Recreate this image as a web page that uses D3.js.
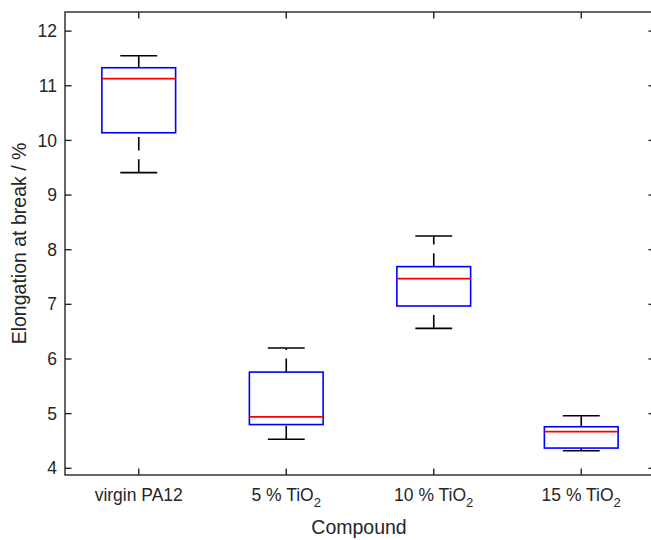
<!DOCTYPE html>
<html>
<head>
<meta charset="utf-8">
<script src="https://cdn.jsdelivr.net/npm/d3@7"></script>
<style>
  html, body { margin: 0; padding: 0; background: #fff; }
  svg { display: block; font-family: "Liberation Sans", Arial, Helvetica, sans-serif; }
</style>
</head>
<body>
<svg id="chart" width="651" height="540"></svg>
<script>
// ---- data ----
const categories = ["virgin PA12", "5 % TiO2", "10 % TiO2", "15 % TiO2"];
const labelMain = ["virgin PA12", "5 % TiO", "10 % TiO", "15 % TiO"];
const labelSub = ["", "2", "2", "2"];
const lowerWhisker = [9.41, 4.53, 6.56, 4.32];
const q1 = [10.14, 4.80, 6.97, 4.37];
const median = [11.13, 4.94, 7.47, 4.67];
const q3 = [11.33, 5.76, 7.69, 4.76];
const upperWhisker = [11.55, 6.20, 8.25, 4.96];
const yTicks = [4, 5, 6, 7, 8, 9, 10, 11, 12];
const xLabel = "Compound";
const yLabel = "Elongation at break / %";

// ---- layout ----
const svg = d3.select("#chart");
const pLeft = 65, pRight = 655, pTop = 12, pBottom = 475;
const axisColor = "#262626";
const x = d3.scaleLinear().domain([0.5, 4.5]).range([pLeft, pRight]);
const y = d3.scaleLinear().domain([3.877, 12.35]).range([pBottom, pTop]);
const boxHalf = 0.25, capHalf = 0.125;
const tickLen = 6.5;

const data = categories.map((c, i) => ({
  i, c, lo: lowerWhisker[i], q1: q1[i], med: median[i], q3: q3[i], hi: upperWhisker[i]
}));

const g = svg.append("g");

// whiskers (dashed)
g.selectAll(".wu").data(data).join("line")
  .attr("x1", d => x(d.i + 1)).attr("x2", d => x(d.i + 1))
  .attr("y1", d => y(d.q3)).attr("y2", d => y(d.hi))
  .attr("stroke", "#000").attr("stroke-width", 1.6)
  .attr("stroke-dasharray", "13.5,8.7");
g.selectAll(".wl").data(data).join("line")
  .attr("x1", d => x(d.i + 1)).attr("x2", d => x(d.i + 1))
  .attr("y1", d => y(d.lo)).attr("y2", d => y(d.q1))
  .attr("stroke", "#000").attr("stroke-width", 1.6)
  .attr("stroke-dasharray", "13.5,8.7");
// caps
["hi", "lo"].forEach(k => {
  g.selectAll(".cap" + k).data(data).join("line")
    .attr("x1", d => x(d.i + 1 - capHalf)).attr("x2", d => x(d.i + 1 + capHalf))
    .attr("y1", d => y(d[k])).attr("y2", d => y(d[k]))
    .attr("stroke", "#000").attr("stroke-width", 1.6);
});
// boxes
g.selectAll(".box").data(data).join("rect")
  .attr("x", d => x(d.i + 1 - boxHalf))
  .attr("width", d => x(d.i + 1 + boxHalf) - x(d.i + 1 - boxHalf))
  .attr("y", d => y(d.q3))
  .attr("height", d => y(d.q1) - y(d.q3))
  .attr("fill", "none").attr("stroke", "#0000ff").attr("stroke-width", 1.6);
// medians
g.selectAll(".med").data(data).join("line")
  .attr("x1", d => x(d.i + 1 - boxHalf)).attr("x2", d => x(d.i + 1 + boxHalf))
  .attr("y1", d => y(d.med)).attr("y2", d => y(d.med))
  .attr("stroke", "#ff0000").attr("stroke-width", 1.6);

// ---- axes ----
const ax = svg.append("g").attr("stroke", axisColor).attr("stroke-width", 1.4).attr("fill", "none");
ax.append("rect").attr("x", pLeft).attr("y", pTop).attr("width", pRight - pLeft).attr("height", pBottom - pTop);

const xt = [1, 2, 3, 4];
xt.forEach(v => {
  ax.append("line").attr("x1", x(v)).attr("x2", x(v)).attr("y1", pBottom).attr("y2", pBottom - tickLen);
  ax.append("line").attr("x1", x(v)).attr("x2", x(v)).attr("y1", pTop).attr("y2", pTop + tickLen);
});
yTicks.forEach(v => {
  ax.append("line").attr("x1", pLeft).attr("x2", pLeft + tickLen).attr("y1", y(v)).attr("y2", y(v));
  ax.append("line").attr("x1", pRight).attr("x2", pRight - tickLen).attr("y1", y(v)).attr("y2", y(v));
});

const tickFont = 17.5;
svg.append("g").selectAll("text").data(yTicks).join("text")
  .attr("x", pLeft - 8).attr("y", d => y(d)).attr("dy", "0.35em")
  .attr("text-anchor", "end").attr("font-size", tickFont).attr("fill", axisColor)
  .text(d => d);

const xl = svg.append("g").selectAll("text").data(data).join("text")
  .attr("x", d => x(d.i + 1)).attr("y", 501)
  .attr("text-anchor", "middle").attr("font-size", tickFont).attr("fill", axisColor);
xl.append("tspan").text(d => labelMain[d.i]);
xl.append("tspan").attr("font-size", tickFont * 0.75).attr("dy", 6).text(d => labelSub[d.i]);

svg.append("text").attr("x", 359).attr("y", 534)
  .attr("text-anchor", "middle").attr("font-size", 19.5).attr("fill", axisColor).text(xLabel);
svg.append("text").attr("transform", `translate(26,${(pTop + pBottom) / 2}) rotate(-90)`)
  .attr("text-anchor", "middle").attr("font-size", 19.5).attr("fill", axisColor).text(yLabel);
</script>
</body>
</html>
